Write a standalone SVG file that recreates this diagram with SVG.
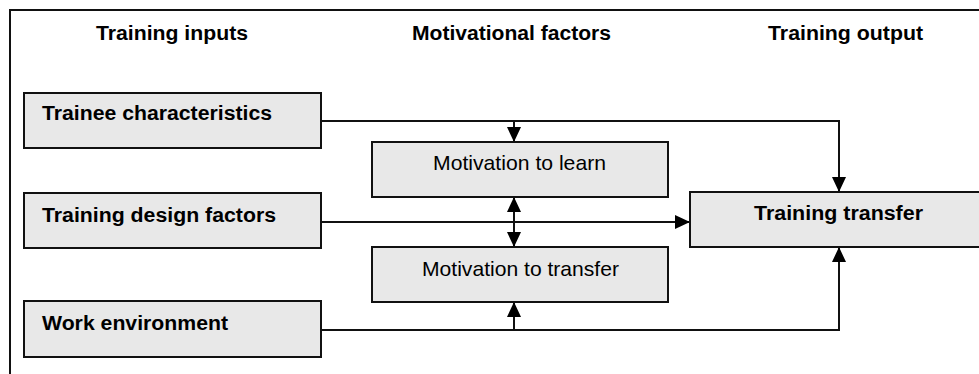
<svg xmlns="http://www.w3.org/2000/svg" width="979" height="374" viewBox="0 0 979 374">
<defs>
<style>
.box{fill:#e8e8e8;stroke:#111;stroke-width:2}
.ln{fill:none;stroke:#111;stroke-width:2}
.hd{font-family:"Liberation Sans",Arial,sans-serif;font-weight:bold;font-size:20px;fill:#000}
.bt{font-family:"Liberation Sans",Arial,sans-serif;font-weight:bold;font-size:20px;fill:#000}
.nt{font-family:"Liberation Sans",Arial,sans-serif;font-size:21px;fill:#000}
</style>
<marker id="ah" viewBox="0 0 15 14" refX="15" refY="7" markerWidth="15" markerHeight="14" markerUnits="userSpaceOnUse" orient="auto-start-reverse">
<path d="M0,0 L15,7 L0,14 Z" fill="#000"/>
</marker>
</defs>
<rect width="979" height="374" fill="#fff"/>
<path class="ln" d="M10,374 V10 H985"/>
<g id="headers">
<text class="hd" x="96" y="40" textLength="152" lengthAdjust="spacingAndGlyphs">Training inputs</text>
<text class="hd" x="412" y="40" textLength="199" lengthAdjust="spacingAndGlyphs">Motivational factors</text>
<text class="hd" x="768" y="40" textLength="155" lengthAdjust="spacingAndGlyphs">Training output</text>
</g>
<g id="connectors">
<path class="ln" d="M321,121 H839 V192" marker-end="url(#ah)"/>
<path class="ln" d="M514,121 V142" marker-end="url(#ah)"/>
<path class="ln" d="M321,222 H690" marker-end="url(#ah)"/>
<path class="ln" d="M514,197 V247" marker-start="url(#ah)" marker-end="url(#ah)"/>
<path class="ln" d="M321,330 H839 V247" marker-end="url(#ah)"/>
<path class="ln" d="M514,330 V302" marker-end="url(#ah)"/>
</g>
<g id="trainee">
<rect class="box" x="24" y="93" width="297" height="55"/>
<text class="bt" x="42" y="120" textLength="230" lengthAdjust="spacingAndGlyphs">Trainee characteristics</text>
</g>
<g id="design">
<rect class="box" x="24" y="193" width="297" height="55"/>
<text class="bt" x="42" y="222" textLength="234" lengthAdjust="spacingAndGlyphs">Training design factors</text>
</g>
<g id="work">
<rect class="box" x="24" y="301" width="297" height="56"/>
<text class="bt" x="42" y="330" textLength="186" lengthAdjust="spacingAndGlyphs">Work environment</text>
</g>
<g id="learn">
<rect class="box" x="372" y="142" width="296" height="55"/>
<text class="nt" x="433" y="170" textLength="173" lengthAdjust="spacingAndGlyphs">Motivation to learn</text>
</g>
<g id="mtransfer">
<rect class="box" x="372" y="247" width="296" height="55"/>
<text class="nt" x="422" y="276" textLength="197" lengthAdjust="spacingAndGlyphs">Motivation to transfer</text>
</g>
<g id="transfer">
<rect class="box" x="690" y="192" width="300" height="55"/>
<text class="bt" x="754" y="220" textLength="169" lengthAdjust="spacingAndGlyphs">Training transfer</text>
</g>
</svg>
